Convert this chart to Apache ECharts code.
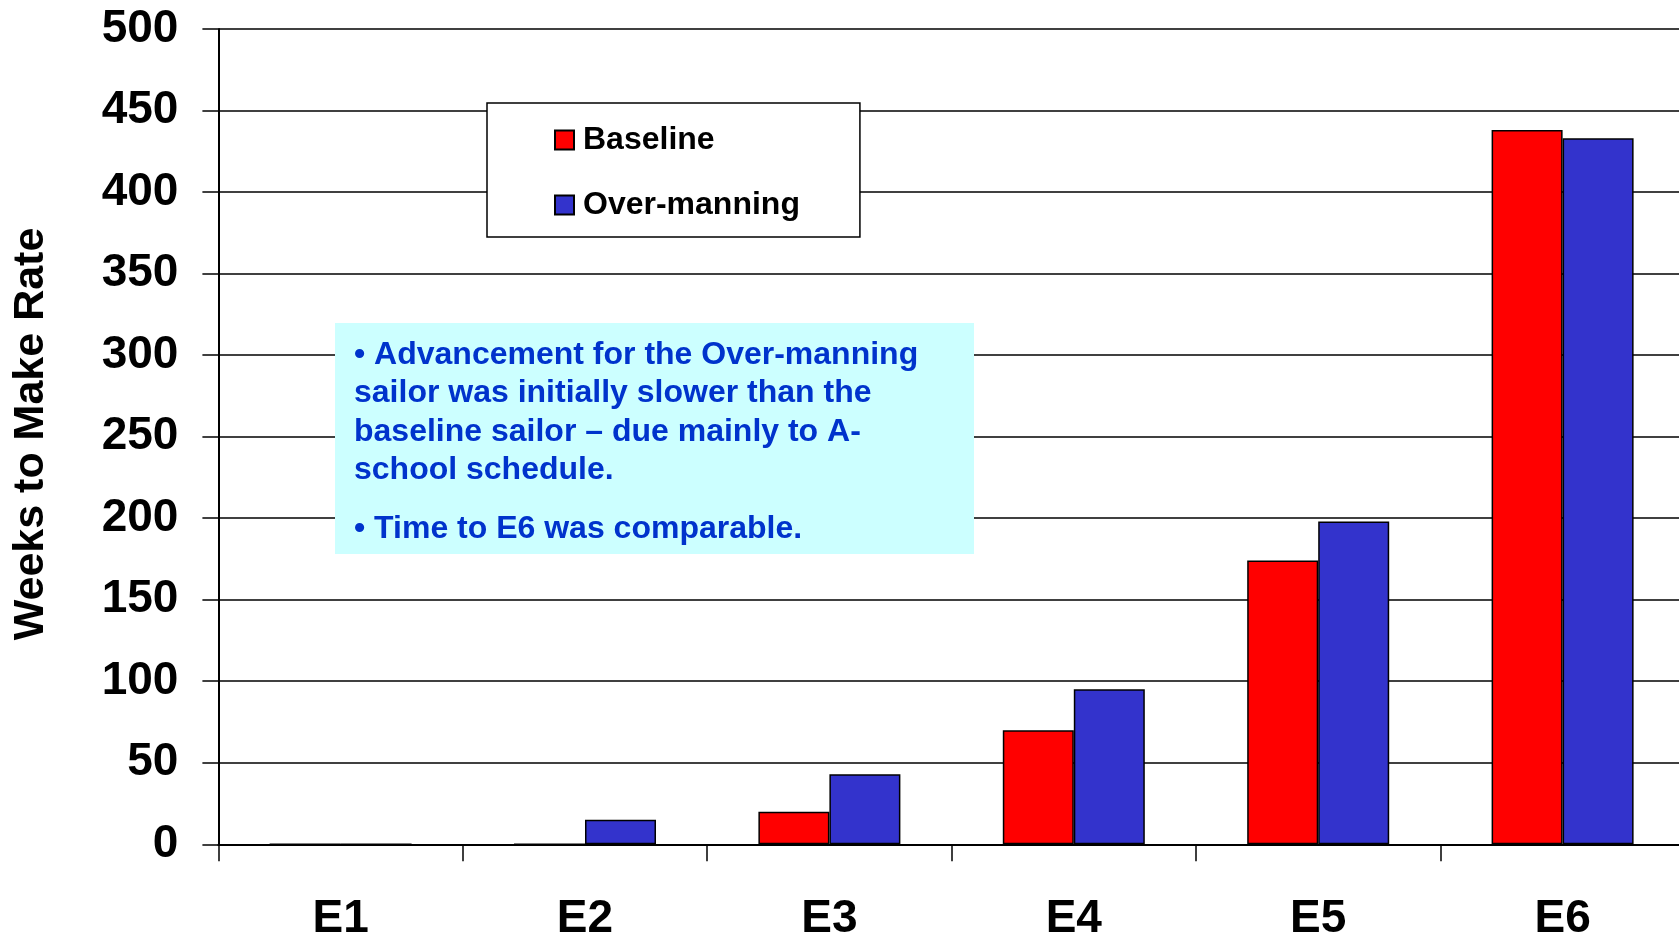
<!DOCTYPE html>
<html>
<head>
<meta charset="utf-8">
<script src="https://cdn.jsdelivr.net/npm/echarts@6/dist/echarts.min.js"></script>
<style>
html,body{margin:0;padding:0;background:#fff;}
#chart{width:1679px;height:938px;}
</style>
</head>
<body>
<div id="chart"></div>
<script>
const categories = ['E1', 'E2', 'E3', 'E4', 'E5', 'E6'];
const baseline = [0, 0, 20, 70, 174, 438];
const overManning = [0, 15, 43, 95, 198, 433];
const seriesNames = ['Baseline', 'Over-manning'];
const yTitle = 'Weeks to Make Rate';
const noteLines1 = ['• Advancement for the Over-manning', 'sailor was initially slower than the', 'baseline sailor – due mainly to A-', 'school schedule.'];
const noteLines2 = ['• Time to E6 was comparable.'];

const FONT = '"Liberation Sans", Arial, sans-serif';
const chart = echarts.init(document.getElementById('chart'), null, {renderer: 'canvas'});

const barStyle = (c) => ({color: c, borderColor: '#000', borderWidth: 1.5});

chart.setOption({
  animation: false,
  backgroundColor: '#fff',
  grid: {left: 218.4, top: 28.9, width: 1466.4, bottom: 93.7, containLabel: false, outerBoundsMode: 'none'},
  xAxis: {
    type: 'category',
    data: categories,
    axisLine: {lineStyle: {color: '#000', width: 2}},
    axisTick: {show: true, length: 17, lineStyle: {color: '#000', width: 1.5}},
    axisLabel: {fontFamily: FONT, fontWeight: 'bold', fontSize: 46, color: '#000', margin: 52},
    splitLine: {show: false}
  },
  yAxis: {
    type: 'value',
    min: 0, max: 500, interval: 50,
    axisLine: {show: true, lineStyle: {color: '#000', width: 2}},
    axisTick: {show: true, length: 16, lineStyle: {color: '#000', width: 1.5}},
    axisLabel: {fontFamily: FONT, fontWeight: 'bold', fontSize: 46, color: '#000', margin: 40},
    splitLine: {show: true, lineStyle: {color: '#000', width: 1.5}}
  },
  legend: {
    orient: 'vertical',
    left: 487, top: 103,
    padding: [21, 60, 16, 67],
    backgroundColor: '#fff',
    borderColor: '#000',
    borderWidth: 1.5,
    borderRadius: 0,
    itemWidth: 19, itemHeight: 19,
    itemGap: 33,
    icon: 'rect',
    textStyle: {fontFamily: FONT, fontWeight: 'bold', fontSize: 32, color: '#000', lineHeight: 32, padding: [0, 0, 0, 4]},
    data: seriesNames
  },
  series: [
    {name: seriesNames[0], type: 'bar', data: baseline, barWidth: 71, barGap: '0%', itemStyle: barStyle('#FF0000')},
    {name: seriesNames[1], type: 'bar', data: overManning, barWidth: 71, barGap: '0%', itemStyle: barStyle('#3333CC')}
  ],
  graphic: [
    {type: 'text', x: 31, y: 434, rotation: Math.PI / 2, z: 10,
     style: {text: yTitle, fontFamily: FONT, fontWeight: 'bold', fontSize: 43, fill: '#000', align: 'center', verticalAlign: 'middle'}},
    {type: 'rect', x: 335, y: 323, z: 10, shape: {width: 639, height: 231}, style: {fill: '#CCFFFF'}},
    {type: 'text', x: 354, y: 336, z: 11,
     style: {text: noteLines1.join('\n'), fontFamily: FONT, fontWeight: 'bold', fontSize: 32, lineHeight: 38.3, fill: '#0033CC', align: 'left', verticalAlign: 'top'}},
    {type: 'text', x: 354, y: 509.6, z: 11,
     style: {text: noteLines2.join('\n'), fontFamily: FONT, fontWeight: 'bold', fontSize: 32, lineHeight: 38.3, fill: '#0033CC', align: 'left', verticalAlign: 'top'}}
  ]
});
</script>
</body>
</html>
